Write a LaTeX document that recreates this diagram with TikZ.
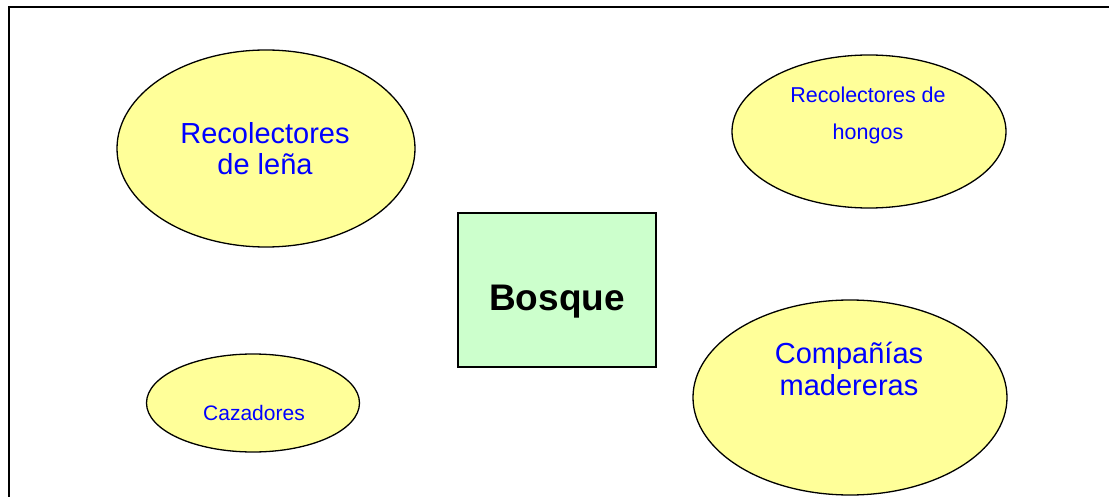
\documentclass[tikz,border=0pt]{standalone}
\usepackage{fontspec}
\setmainfont{Liberation Sans}
\usetikzlibrary{shapes.geometric}
\definecolor{amarillo}{HTML}{FFFF99}
\definecolor{verde}{HTML}{CCFFCC}
\definecolor{azul}{HTML}{0000FF}
\tikzset{
  actor/.style={draw, ellipse, fill=amarillo, line width=1.3pt, inner sep=0pt},
  texto/.style={text=azul, align=center, inner sep=0pt, anchor=base},
}
\begin{document}
\begin{tikzpicture}[x=1pt,y=-1pt]
		\useasboundingbox (0,0) rectangle (1109,497);
		\draw[line width=2pt] (8.5,7) rectangle (1115,505);
		\node (lena) [actor, minimum width=298pt, minimum height=197pt] at (266,148.5) {};
		\node (hongos) [actor, minimum width=274pt, minimum height=153pt] at (869,131.5) {};
		\node (cazadores) [actor, minimum width=213pt, minimum height=98pt] at (253,403) {};
		\node (companias) [actor, minimum width=314pt, minimum height=195pt] at (850,397.5) {};
		\node (bosque) [draw, fill=verde, line width=1.5pt, minimum width=198pt, minimum height=154pt] at (557,290) {};
		\node (tlena) [texto, font=\fontsize{29}{31}\selectfont] at (265,175) {Recolectores\\de leña};
		\node (thongos) [texto, font=\fontsize{21.5}{37}\selectfont] at (868,140) {Recolectores de\\hongos};
		\node (tcazadores) [texto, font=\fontsize{21}{24}\selectfont] at (254,420) {Cazadores};
		\node (tcompanias) [texto, font=\fontsize{29}{31.5}\selectfont] at (849,395) {Compañías\\madereras};
		\node (tbosque) [anchor=base, inner sep=0pt, font=\fontsize{37}{40}\selectfont\bfseries] at (557,311) {Bosque};
\end{tikzpicture}
\end{document}
